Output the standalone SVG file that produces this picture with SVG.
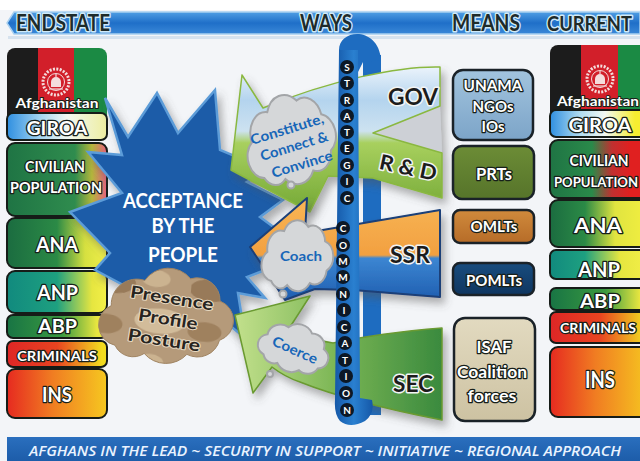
<svg xmlns="http://www.w3.org/2000/svg" width="640" height="461" viewBox="0 0 640 461">
<defs>
<style>
.t{font-family:Lato,'Open Sans','Liberation Sans',sans-serif;font-weight:700;text-anchor:middle}
.w{fill:#fff;stroke:#17201a;stroke-width:2.6;paint-order:stroke;stroke-linejoin:round}
.d{fill:#1c1c1c;stroke:#f2f4f4;stroke-width:3;paint-order:stroke;stroke-linejoin:round}
.h{fill:#1e2b2a;stroke:#cfeaf8;stroke-width:3;paint-order:stroke;stroke-linejoin:round;text-anchor:start}
.c{fill:#1766b8}
.p{fill:#272420;stroke:#e6d8c0;stroke-width:2;paint-order:stroke;stroke-linejoin:round}
.s{fill:#fff}
.box{stroke:#161c18;stroke-width:2}
.mbox{stroke:#1a2228;stroke-width:2.5}
.cl{fill:#d5d7d9;stroke:#a3a5a8;stroke-width:2}
.dot{fill:#0c1826}
.ltr{font-family:Lato,'Open Sans','Liberation Sans',sans-serif;font-weight:700;font-size:10px;fill:#fff;text-anchor:middle}
.bar{fill:#1e6cc0}
</style>
<path id="cloud" vector-effect="non-scaling-stroke" d="M20,60 a15,15 0 0 1 -5,-28 a18,18 0 0 1 22,-20 a20,20 0 0 1 32,-4 a16,16 0 0 1 22,14 a15,15 0 0 1 2,28 a16,16 0 0 1 -22,12 a20,20 0 0 1 -30,2 a14,14 0 0 1 -21,-4 z"/>
<filter id="sh" x="-20%" y="-20%" width="150%" height="150%"><feDropShadow dx="4" dy="6" stdDeviation="4" flood-color="#555" flood-opacity="0.45"/></filter>
<linearGradient id="gHdr" x1="0" y1="0" x2="0" y2="1"><stop offset="0" stop-color="#4f9ee4"/><stop offset="0.5" stop-color="#1f6fc8"/><stop offset="1" stop-color="#3a88d8"/></linearGradient>
<linearGradient id="gBan" x1="0" y1="0" x2="0" y2="1"><stop offset="0" stop-color="#2a6fbe"/><stop offset="1" stop-color="#1a58a4"/></linearGradient>
<linearGradient id="gGiroa"><stop offset="0" stop-color="#2f8fe0"/><stop offset="0.35" stop-color="#a9d8f2"/><stop offset="0.6" stop-color="#f2f8f2"/><stop offset="1" stop-color="#eeeea0"/></linearGradient>
<linearGradient id="gGiroaR"><stop offset="0" stop-color="#2f8fe0"/><stop offset="0.3" stop-color="#b0dcf0"/><stop offset="0.55" stop-color="#f2f8f2"/><stop offset="0.85" stop-color="#f6ee30"/></linearGradient>
<linearGradient id="gCiv"><stop offset="0" stop-color="#1f7444"/><stop offset="0.68" stop-color="#2f8c4e"/><stop offset="0.85" stop-color="#b4b63c"/><stop offset="1" stop-color="#e86080"/></linearGradient>
<linearGradient id="gCivR"><stop offset="0" stop-color="#1f7444"/><stop offset="0.42" stop-color="#2a8a4a"/><stop offset="0.62" stop-color="#c03030"/><stop offset="0.8" stop-color="#e02020"/></linearGradient>
<linearGradient id="gAna"><stop offset="0" stop-color="#1b6c40"/><stop offset="0.5" stop-color="#2b8a46"/><stop offset="0.78" stop-color="#d6e040"/><stop offset="1" stop-color="#f2f04a"/></linearGradient>
<linearGradient id="gAnaR"><stop offset="0" stop-color="#1b6c40"/><stop offset="0.35" stop-color="#2b8a46"/><stop offset="0.65" stop-color="#e0e440"/><stop offset="1" stop-color="#f4f040"/></linearGradient>
<linearGradient id="gAnp"><stop offset="0" stop-color="#118a7e"/><stop offset="0.5" stop-color="#1ea080"/><stop offset="0.85" stop-color="#e6e640"/><stop offset="1" stop-color="#f4f048"/></linearGradient>
<linearGradient id="gAnpR"><stop offset="0" stop-color="#118a7e"/><stop offset="0.35" stop-color="#1ea080"/><stop offset="0.7" stop-color="#e6e640"/><stop offset="1" stop-color="#f4f048"/></linearGradient>
<linearGradient id="gAbp"><stop offset="0" stop-color="#187444"/><stop offset="0.55" stop-color="#3a9a40"/><stop offset="0.9" stop-color="#e8e640"/></linearGradient>
<linearGradient id="gCrim"><stop offset="0" stop-color="#de2626"/><stop offset="0.5" stop-color="#e84420"/><stop offset="0.95" stop-color="#f2dc20"/></linearGradient>
<linearGradient id="gIns"><stop offset="0" stop-color="#e62a20"/><stop offset="0.45" stop-color="#f07c22"/><stop offset="1" stop-color="#f6c820"/></linearGradient>
<linearGradient id="gUn" x1="0" y1="0" x2="0" y2="1"><stop offset="0" stop-color="#a2c4de"/><stop offset="1" stop-color="#7ca4c8"/></linearGradient>
<linearGradient id="gPrt" x1="0" y1="0" x2="0" y2="1"><stop offset="0" stop-color="#6c8c36"/><stop offset="1" stop-color="#56742a"/></linearGradient>
<linearGradient id="gOm" x1="0" y1="0" x2="0" y2="1"><stop offset="0" stop-color="#d08a3c"/><stop offset="1" stop-color="#b66c28"/></linearGradient>
<linearGradient id="gPom" x1="0" y1="0" x2="0" y2="1"><stop offset="0" stop-color="#184c7e"/><stop offset="1" stop-color="#0f3660"/></linearGradient>
<linearGradient id="gIsaf" x1="0" y1="0" x2="0" y2="1"><stop offset="0" stop-color="#e2dac0"/><stop offset="1" stop-color="#cdc2a2"/></linearGradient>
<linearGradient id="gGov" gradientUnits="userSpaceOnUse" x1="0" y1="65" x2="0" y2="212"><stop offset="0" stop-color="#eef5fc"/><stop offset="0.24" stop-color="#b4d4ee"/><stop offset="0.45" stop-color="#cde2f0"/><stop offset="0.53" stop-color="#a8d05e"/><stop offset="1" stop-color="#74a836"/></linearGradient>
<linearGradient id="gSsr" gradientUnits="userSpaceOnUse" x1="0" y1="198" x2="0" y2="300"><stop offset="0" stop-color="#f8b656"/><stop offset="0.56" stop-color="#f2a040"/><stop offset="0.59" stop-color="#3c86d2"/><stop offset="1" stop-color="#1f5eb0"/></linearGradient>
<linearGradient id="gSec" gradientUnits="userSpaceOnUse" x1="235" y1="0" x2="442" y2="0"><stop offset="0" stop-color="#c2e08c"/><stop offset="0.5" stop-color="#7ab554"/><stop offset="1" stop-color="#3a8a3e"/></linearGradient>
<linearGradient id="gBar"><stop offset="0" stop-color="#1558a8"/><stop offset="0.5" stop-color="#2a80d0"/><stop offset="1" stop-color="#1558a8"/></linearGradient>
<pattern id="camo" patternUnits="userSpaceOnUse" width="70" height="60"><rect width="70" height="60" fill="#b59a7a"/><ellipse cx="15" cy="15" rx="16" ry="8" fill="#8c6c4c" opacity="0.7"/><ellipse cx="50" cy="40" rx="18" ry="9" fill="#d2bc9a"/><ellipse cx="45" cy="10" rx="10" ry="6" fill="#cbb390"/><ellipse cx="12" cy="45" rx="12" ry="7" fill="#9a7a58" opacity="0.8"/></pattern>
<clipPath id="flL"><rect x="7" y="48" width="100" height="75" rx="8"/></clipPath>
<clipPath id="flR"><rect x="550" y="45" width="100" height="75" rx="8"/></clipPath>
<g id="emblem" fill="none" stroke="#f4dcdc"><circle r="13" stroke-width="3" stroke-dasharray="2 1.4"/><circle r="8.5" stroke-width="1"/><path d="M-5,5 L-5,0 A5,5 0 0 1 5,0 L5,5 Z" fill="#f4dcdc" stroke="none"/><path d="M-7,7 L7,7" stroke-width="1.2"/><path d="M0,-8 L0,-5" stroke-width="1.2"/></g>
</defs>

<rect width="640" height="461" fill="#f3f5f8"/>
<rect width="640" height="10" fill="#ffffff"/>

<g id="header">
<path d="M14,12 L640,12 L640,34 L14,34 L7,23 Z" fill="url(#gHdr)" stroke="#a8d0f0" stroke-width="1.5"/>
<rect x="8" y="36" width="632" height="3" fill="#d6e2ee"/>
<text class="t h" x="16" y="31" font-size="22" textLength="94" lengthAdjust="spacingAndGlyphs">ENDSTATE</text>
<text class="t h" x="300" y="31" font-size="22" textLength="52" lengthAdjust="spacingAndGlyphs">WAYS</text>
<text class="t h" x="452" y="31" font-size="22" textLength="68" lengthAdjust="spacingAndGlyphs">MEANS</text>
<text class="t h" x="547" y="31" font-size="20" textLength="85" lengthAdjust="spacingAndGlyphs">CURRENT</text>
</g>

<g id="endstate">
<g id="flag-left" clip-path="url(#flL)">
<rect x="7" y="48" width="31" height="75" fill="#1c1c1c"/>
<rect x="38" y="48" width="36" height="75" fill="#d21f2a"/>
<rect x="74" y="48" width="33" height="75" fill="#1b8a44"/>
</g>
<use href="#emblem" transform="translate(56,82)"/>
<text class="t w" x="57" y="108" font-size="14" style="stroke-width:2" textLength="83" lengthAdjust="spacingAndGlyphs">Afghanistan</text>
<g id="giroa-l"><rect class="box" x="7" y="113" width="100" height="27" rx="6" fill="url(#gGiroa)"/><text class="t w" x="57" y="135" font-size="19" textLength="61" lengthAdjust="spacingAndGlyphs">GIROA</text></g>
<g id="civ-l"><rect class="box" x="7" y="143" width="100" height="73" rx="8" fill="url(#gCiv)"/><text class="t w" x="55" y="172" font-size="15" textLength="60" lengthAdjust="spacingAndGlyphs">CIVILIAN</text><text class="t w" x="56" y="193" font-size="15" textLength="92" lengthAdjust="spacingAndGlyphs">POPULATION</text></g>
<g id="ana-l"><rect class="box" x="7" y="218" width="100" height="50" rx="8" fill="url(#gAna)"/><text class="t w" x="57" y="252" font-size="21" textLength="42" lengthAdjust="spacingAndGlyphs">ANA</text></g>
<g id="anp-l"><rect class="box" x="7" y="271" width="100" height="42" rx="8" fill="url(#gAnp)"/><text class="t w" x="57.5" y="300" font-size="21" textLength="41" lengthAdjust="spacingAndGlyphs">ANP</text></g>
<g id="abp-l"><rect class="box" x="7" y="315" width="100" height="23" rx="6" fill="url(#gAbp)"/><text class="t w" x="57.5" y="333" font-size="19" textLength="39" lengthAdjust="spacingAndGlyphs">ABP</text></g>
<g id="crim-l"><rect class="box" x="7" y="341" width="100" height="26" rx="6" fill="url(#gCrim)"/><text class="t w" x="57" y="361" font-size="14" textLength="80" lengthAdjust="spacingAndGlyphs">CRIMINALS</text></g>
<g id="ins-l"><rect class="box" x="7" y="369" width="100" height="49" rx="8" fill="url(#gIns)"/><text class="t w" x="57" y="402" font-size="21" textLength="30" lengthAdjust="spacingAndGlyphs">INS</text></g>
</g>

<g id="current">
<g id="flag-right" clip-path="url(#flR)">
<rect x="550" y="45" width="31" height="75" fill="#1c1c1c"/>
<rect x="581" y="45" width="37" height="75" fill="#d21f2a"/>
<rect x="618" y="45" width="32" height="75" fill="#1b8a44"/>
</g>
<use href="#emblem" transform="translate(600,79)"/>
<text class="t w" x="598" y="106" font-size="14" style="stroke-width:2" textLength="82" lengthAdjust="spacingAndGlyphs">Afghanistan</text>
<g id="giroa-r"><rect class="box" x="550" y="110" width="100" height="27" rx="6" fill="url(#gGiroaR)"/><text class="t w" x="600" y="132" font-size="19" textLength="63" lengthAdjust="spacingAndGlyphs">GIROA</text></g>
<g id="civ-r"><rect class="box" x="550" y="140" width="100" height="58" rx="8" fill="url(#gCivR)"/><text class="t w" x="599" y="166" font-size="15" textLength="59" lengthAdjust="spacingAndGlyphs">CIVILIAN</text><text class="t w" x="596" y="187" font-size="13.5" textLength="84" lengthAdjust="spacingAndGlyphs">POPULATION</text></g>
<g id="ana-r"><rect class="box" x="550" y="200" width="100" height="47" rx="8" fill="url(#gAnaR)"/><text class="t w" x="598" y="233" font-size="21" textLength="48" lengthAdjust="spacingAndGlyphs">ANA</text></g>
<g id="anp-r"><rect class="box" x="550" y="250" width="100" height="29" rx="6" fill="url(#gAnpR)"/><text class="t w" x="599" y="277" font-size="20" textLength="42" lengthAdjust="spacingAndGlyphs">ANP</text></g>
<g id="abp-r"><rect class="box" x="550" y="288" width="100" height="22" rx="6" fill="url(#gAbp)"/><text class="t w" x="600" y="308" font-size="19" textLength="40" lengthAdjust="spacingAndGlyphs">ABP</text></g>
<g id="crim-r"><rect class="box" x="550" y="312" width="100" height="31" rx="6" fill="url(#gCrim)"/><text class="t w" x="598" y="333" font-size="14" textLength="76" lengthAdjust="spacingAndGlyphs">CRIMINALS</text></g>
<g id="ins-r"><rect class="box" x="550" y="347" width="100" height="70" rx="8" fill="url(#gIns)"/><text class="t w" x="600" y="388" font-size="22" textLength="30" lengthAdjust="spacingAndGlyphs">INS</text></g>
</g>

<g id="means">
<g id="unama"><rect class="mbox" x="453" y="70" width="80" height="70" rx="10" fill="url(#gUn)"/><text class="t w" x="493" y="91" font-size="16" textLength="59" lengthAdjust="spacingAndGlyphs">UNAMA</text><text class="t w" x="493" y="112" font-size="16" textLength="41" lengthAdjust="spacingAndGlyphs">NGOs</text><text class="t w" x="493" y="132" font-size="16" textLength="23" lengthAdjust="spacingAndGlyphs">IOs</text></g>
<g id="prts"><rect class="mbox" x="453" y="146" width="81" height="53" rx="9" fill="url(#gPrt)"/><text class="t w" x="494" y="180" font-size="17" textLength="36" lengthAdjust="spacingAndGlyphs">PRTs</text></g>
<g id="omlts"><rect class="mbox" x="453" y="210" width="81" height="33" rx="7" fill="url(#gOm)"/><text class="t w" x="494" y="232" font-size="16" textLength="47" lengthAdjust="spacingAndGlyphs">OMLTs</text></g>
<g id="pomlts"><rect class="mbox" x="453" y="263" width="81" height="32" rx="7" fill="url(#gPom)"/><text class="t w" x="494" y="286" font-size="15" textLength="56" lengthAdjust="spacingAndGlyphs">POMLTs</text></g>
<g id="isaf"><rect class="mbox" x="454" y="318" width="81" height="103" rx="11" fill="url(#gIsaf)"/><text class="t w" x="494" y="353" font-size="17" textLength="35" lengthAdjust="spacingAndGlyphs">ISAF</text><text class="t w" x="492" y="378" font-size="17" textLength="70" lengthAdjust="spacingAndGlyphs">Coalition</text><text class="t w" x="492" y="402" font-size="17" textLength="49" lengthAdjust="spacingAndGlyphs">forces</text></g>
</g>

<g id="comm-back">
<rect class="bar" x="363" y="55" width="18" height="360"/>
<path class="bar" d="M339,72 L339,50 C339,28 379,26 381,60 L363,62 L358,72 Z"/>
</g>

<g id="acceptance">
<path d="M105,98 L128,137 L157,93 L178,133 L215,90 L220,150 L268,170 L247,182 L283,200 L260,217 L287,237 L252,247 L273,267 L247,277 L265,298 L238,293 L245,338 L205,305 L160,305 L127,287 L95,270 L110,253 L70,212 L122,193 L88,152 L122,155 Z" fill="#1e5ca8" stroke="#5c9cd8" stroke-width="2.5" stroke-linejoin="miter" filter="url(#sh)"/>
<text class="t s" x="183" y="208" font-size="20" textLength="120" lengthAdjust="spacingAndGlyphs">ACCEPTANCE</text>
<text class="t s" x="183" y="233" font-size="20" textLength="63" lengthAdjust="spacingAndGlyphs">BY THE</text>
<text class="t s" x="183" y="262" font-size="20" textLength="70" lengthAdjust="spacingAndGlyphs">PEOPLE</text>
</g>

<g id="presence">
<use href="#cloud" fill="url(#camo)" stroke="#a08462" stroke-width="1" transform="translate(166,316) rotate(5) scale(1.42,1.4) translate(-54,-36)"/>
<text class="t p" transform="translate(172,298) rotate(9)" y="6" font-size="17" textLength="84" lengthAdjust="spacingAndGlyphs">Presence</text>
<text class="t p" transform="translate(168,319) rotate(9)" y="6" font-size="17" textLength="60" lengthAdjust="spacingAndGlyphs">Profile</text>
<text class="t p" transform="translate(164,340) rotate(9)" y="6" font-size="17" textLength="73" lengthAdjust="spacingAndGlyphs">Posture</text>
</g>

<g id="connectors">
<g id="gov-rd" filter="url(#sh)">
<path d="M440,106 L373,133 L442,153 Z" fill="#cdd0d6"/>
<path d="M440,67 C400,66 330,80 263,108 L242,75 L231,170 L310,212 L328,176 L373,178 L442,198 L442,153 L373,133 L440,106 Z" fill="url(#gGov)" stroke="#8ab840" stroke-width="1.5" stroke-linejoin="round"/>
</g>
<path id="ssr" d="M440,210 L352,225 L305,233 L307,198 L250,247 L285,300 L315,289 L353,290 L440,297 Z" fill="url(#gSsr)" stroke="#1a3f78" stroke-width="2" stroke-linejoin="round" filter="url(#sh)"/>
<path id="sec" d="M310,296 L235,315 L253,393 L272,367 Q285,377 300,382 Q350,402 442,420 L442,328 Q380,333 333,343 Q310,340 290,327 Z" fill="url(#gSec)" stroke="#6a9a30" stroke-width="1.5" stroke-linejoin="round" filter="url(#sh)"/>
</g>

<g id="comm-front">
<path d="M339,50 L358,50 L360,398 L372,400 Q375,414 365,421 Q350,429 340,421 Q334,414 335,400 Z" fill="url(#gBar)"/>
<g class="dot">
<circle cx="347" cy="67" r="7"/><circle cx="347" cy="83" r="7"/><circle cx="347" cy="100" r="7"/><circle cx="347" cy="116" r="7"/><circle cx="347" cy="132" r="7"/><circle cx="347" cy="148" r="7"/><circle cx="347" cy="165" r="7"/><circle cx="347" cy="181" r="7"/><circle cx="347" cy="198" r="7"/>
<circle cx="343" cy="228" r="7"/><circle cx="343" cy="245" r="7"/><circle cx="343" cy="261" r="7"/><circle cx="343" cy="277" r="7"/><circle cx="343" cy="294" r="7"/><circle cx="344" cy="310" r="7"/><circle cx="344" cy="327" r="7"/><circle cx="345" cy="343" r="7"/><circle cx="345" cy="360" r="7"/><circle cx="346" cy="376" r="7"/><circle cx="346" cy="393" r="7"/><circle cx="347" cy="410" r="7"/>
</g>
<g class="ltr">
<text x="347" y="70.5">S</text><text x="347" y="86.5">T</text><text x="347" y="103.5">R</text><text x="347" y="119.5">A</text><text x="347" y="135.5">T</text><text x="347" y="151.5">E</text><text x="347" y="168.5">G</text><text x="347" y="184.5">I</text><text x="347" y="201.5">C</text>
<text x="343" y="231.5">C</text><text x="343" y="248.5">O</text><text x="343" y="264.5">M</text><text x="343" y="280.5">M</text><text x="343" y="297.5">N</text><text x="344" y="313.5">I</text><text x="344" y="330.5">C</text><text x="345" y="346.5">A</text><text x="345" y="363.5">T</text><text x="346" y="379.5">I</text><text x="346" y="396.5">O</text><text x="347" y="413.5">N</text>
</g>
</g>

<g id="cloud-constitute">
<use href="#cloud" class="cl" transform="translate(290,140) rotate(-12) scale(0.97,1.33) translate(-54,-36)"/>
<circle class="cl" cx="291" cy="185" r="3.5"/>
<text class="t c" transform="translate(287,129) rotate(-17)" y="5" font-size="14" textLength="76" lengthAdjust="spacingAndGlyphs">Constitute,</text>
<text class="t c" transform="translate(294,146) rotate(-17)" y="5" font-size="14" textLength="70" lengthAdjust="spacingAndGlyphs">Connect &amp;</text>
<text class="t c" transform="translate(302,164) rotate(-17)" y="5" font-size="14" textLength="63" lengthAdjust="spacingAndGlyphs">Convince</text>
</g>
<g id="cloud-coach">
<use href="#cloud" class="cl" transform="translate(297,256) scale(0.76,1.04) translate(-54,-36)"/>
<circle class="cl" cx="283" cy="294" r="3.5"/>
<text class="t c" x="301" y="261" font-size="14" textLength="42" lengthAdjust="spacingAndGlyphs">Coach</text>
</g>
<g id="cloud-coerce">
<use href="#cloud" class="cl" transform="translate(294,348) rotate(22) scale(0.76,0.72) translate(-54,-36)"/>
<circle class="cl" cx="270" cy="374" r="3"/>
<text class="t c" transform="translate(295,350) rotate(24)" y="5" font-size="14" textLength="48" lengthAdjust="spacingAndGlyphs">Coerce</text>
</g>

<g id="ways-labels">
<text class="t d" x="413" y="105" font-size="22" textLength="50" lengthAdjust="spacingAndGlyphs">GOV</text>
<text class="t d" transform="translate(408,168) rotate(12)" y="7" font-size="21" textLength="58" lengthAdjust="spacingAndGlyphs">R &amp; D</text>
<text class="t d" x="410" y="263" font-size="22" textLength="40" lengthAdjust="spacingAndGlyphs">SSR</text>
<text class="t d" x="413" y="392" font-size="22" textLength="40" lengthAdjust="spacingAndGlyphs">SEC</text>
</g>

<g id="banner">
<rect x="7" y="437" width="640" height="30" fill="url(#gBan)"/>
<text x="325" y="456" font-family="'Open Sans',Lato,'Liberation Sans',sans-serif" font-size="15" font-style="italic" font-weight="600" fill="#eaf3ff" text-anchor="middle" textLength="592" lengthAdjust="spacingAndGlyphs">AFGHANS IN THE LEAD ~ SECURITY IN SUPPORT ~ INITIATIVE ~ REGIONAL APPROACH</text>
</g>
</svg>
